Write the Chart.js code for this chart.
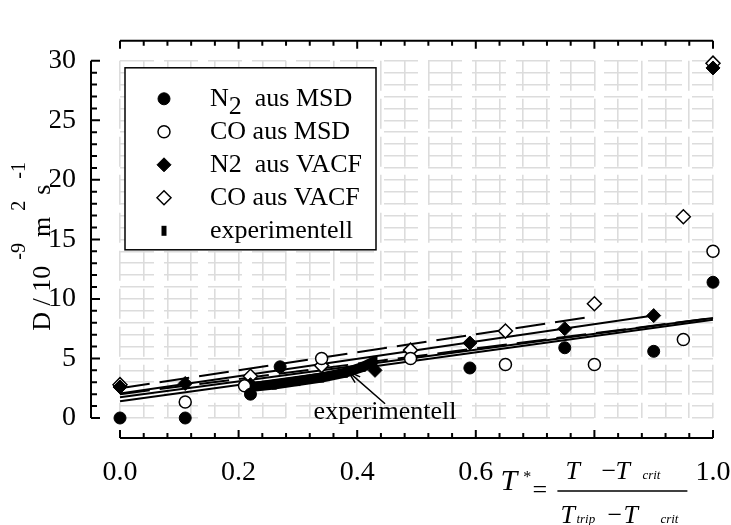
<!DOCTYPE html>
<html>
<head>
<meta charset="utf-8">
<script src="https://cdn.jsdelivr.net/npm/chart.js@4.4.1/dist/chart.umd.min.js"></script>
<style>
  html, body { margin: 0; padding: 0; background: #fff; }
  canvas { display: block; }
</style>
</head>
<body>
<canvas id="chart1" width="731" height="525"></canvas>
<script>
// reduced temperature T* and self diffusion coefficient D in 1e-9 m^2/s
const n2MsdT = [0.0, 0.11, 0.22, 0.27, 0.59, 0.75, 0.90, 1.0];
const n2MsdD = [0.0, 0.0, 2.0, 4.3, 4.2, 5.9, 5.6, 11.4];

const coMsdT = [0.11, 0.21, 0.34, 0.49, 0.65, 0.80, 0.95, 1.0];
const coMsdD = [1.35, 2.7, 5.0, 5.0, 4.5, 4.5, 6.6, 14.0];

const n2VacfT = [0.0, 0.11, 0.22, 0.43, 0.59, 0.75, 0.90, 1.0];
const n2VacfD = [2.6, 2.9, 2.8, 4.0, 6.3, 7.5, 8.6, 29.4];

const coVacfT = [0.0, 0.22, 0.34, 0.49, 0.65, 0.80, 0.95, 1.0];
const coVacfD = [2.8, 3.5, 4.4, 5.7, 7.3, 9.6, 16.9, 29.8];

const expT = [0.22, 0.26, 0.30, 0.34, 0.38, 0.41, 0.43];
const expD = [2.6, 2.8, 3.1, 3.4, 3.8, 4.3, 4.8];

// straight line fits, start and end point
const fitLongDashT = [0.0, 0.80];
const fitLongDashD = [2.5, 8.55];
const fitSolid1T = [0.0, 0.90];
const fitSolid1D = [2.05, 8.6];
const fitDashT = [0.0, 1.0];
const fitDashD = [2.0, 8.4];
const fitSolid2T = [0.0, 1.0];
const fitSolid2D = [1.75, 8.4];
const fitSolid3T = [0.0, 1.0];
const fitSolid3D = [1.4, 8.25];

const xTickLabels = ['0.0', '0.2', '0.4', '0.6', '', '1.0'];
const yTickLabels = ['0', '5', '10', '15', '20', '25', '30'];

function pts(xs, ys) {
  return xs.map((x, i) => ({ x: x, y: ys[i] }));
}

const serif = "'Liberation Serif', 'Times New Roman', serif";
Chart.defaults.font.family = serif;
Chart.defaults.color = '#000';

function fitLine(xs, ys, dash) {
  return {
    data: pts(xs, ys),
    showLine: true,
    borderColor: '#000',
    borderWidth: 2,
    borderDash: dash,
    pointRadius: 0,
    clip: false
  };
}

// axes sit a little away from the grid
const offsetAxes = {
  id: 'offsetAxes',
  afterDraw(chart) {
    const ctx = chart.ctx;
    const x = chart.scales.x, y = chart.scales.y;
    const a = chart.chartArea;
    const ax = a.left - 29, bottom = a.bottom + 20, top = a.top - 20;
    ctx.save();
    ctx.strokeStyle = '#000';
    ctx.lineWidth = 2;
    ctx.beginPath();
    ctx.moveTo(ax, y.getPixelForValue(0));
    ctx.lineTo(ax, y.getPixelForValue(30));
    for (let v = 0; v <= 30; v++) {
      const py = y.getPixelForValue(v);
      ctx.moveTo(ax, py);
      ctx.lineTo(ax + (v % 5 === 0 ? 9 : 6), py);
    }
    ctx.moveTo(x.getPixelForValue(0), bottom);
    ctx.lineTo(x.getPixelForValue(1), bottom);
    ctx.moveTo(x.getPixelForValue(0), top);
    ctx.lineTo(x.getPixelForValue(1), top);
    for (let i = 0; i <= 25; i++) {
      const px = x.getPixelForValue(i * 0.04);
      const len = i % 5 === 0 ? 8 : 5;
      ctx.moveTo(px, bottom);
      ctx.lineTo(px, bottom - len);
      ctx.moveTo(px, top);
      ctx.lineTo(px, top + len);
    }
    ctx.stroke();
    ctx.restore();
  }
};

// boxed legend in the upper left corner
const legendBox = {
  id: 'legendBox',
  afterDatasetsDraw(chart) {
    const ctx = chart.ctx;
    const a = chart.chartArea;
    const left = a.left + 5, top = a.top + 7;
    ctx.save();
    ctx.fillStyle = '#fff';
    ctx.fillRect(left, top, 251, 182);
    ctx.strokeStyle = '#000';
    ctx.lineWidth = 1.5;
    ctx.strokeRect(left, top, 251, 182);
    const rows = chart.data.datasets.filter(d => d.label);
    rows.forEach((ds, i) => {
      const ry = top + 31 + i * 33;
      ctx.fillStyle = ds.pointBackgroundColor;
      ctx.strokeStyle = ds.pointBorderColor;
      ctx.lineWidth = ds.pointBorderWidth;
      Chart.helpers.drawPoint(ctx, {
        pointStyle: ds.pointStyle,
        rotation: ds.pointRotation || 0,
        radius: ds.pointRadius,
        borderWidth: ds.pointBorderWidth
      }, left + 39, ry);
      ctx.fillStyle = '#000';
      ctx.font = '26px ' + serif;
      ctx.textBaseline = 'middle';
      let tx = left + 85;
      const parts = ds.label.split('\u2082');
      ctx.fillText(parts[0], tx, ry);
      if (parts.length > 1) {
        tx += ctx.measureText(parts[0]).width;
        ctx.fillText('2', tx, ry + 8);
        tx += ctx.measureText('2').width;
        ctx.fillText(parts[1], tx, ry);
      }
    });
    ctx.restore();
  }
};

// axis titles and the note on the measured values
const labels = {
  id: 'labels',
  afterDraw(chart) {
    const ctx = chart.ctx;
    const x = chart.scales.x, y = chart.scales.y;
    const a = chart.chartArea;
    ctx.save();
    ctx.fillStyle = '#000';
    ctx.strokeStyle = '#000';

    // arrow to the experimental curve
    const tipX = x.getPixelForValue(0.385), tipY = y.getPixelForValue(3.9);
    const tailX = x.getPixelForValue(0.447), tailY = y.getPixelForValue(1.2);
    const ang = Math.atan2(tailY - tipY, tailX - tipX);
    ctx.lineWidth = 1.5;
    ctx.beginPath();
    ctx.moveTo(tailX, tailY);
    ctx.lineTo(tipX, tipY);
    ctx.moveTo(tipX + 13 * Math.cos(ang + 0.3), tipY + 13 * Math.sin(ang + 0.3));
    ctx.lineTo(tipX, tipY);
    ctx.lineTo(tipX + 13 * Math.cos(ang - 0.3), tipY + 13 * Math.sin(ang - 0.3));
    ctx.stroke();
    ctx.font = '26px ' + serif;
    ctx.textAlign = 'center';
    ctx.textBaseline = 'alphabetic';
    ctx.fillText('experimentell', x.getPixelForValue(0.447), y.getPixelForValue(0) + 1);

    // y title: D / 10^-9 m^2 s^-1
    ctx.save();
    ctx.translate(a.left - 70, (a.top + a.bottom) / 2 + 4);
    ctx.rotate(-Math.PI / 2);
    ctx.textAlign = 'left';
    const pieces = [['D / 10', 0], ['-9', 1], ['m', 0], ['2', 1], ['s', 0], ['-1', 1]];
    const gap = 6;
    let total = 0;
    pieces.forEach(p => {
      ctx.font = (p[1] ? '20px ' : '26px ') + serif;
      p.push(ctx.measureText(p[0]).width);
      total += p[2] + gap;
    });
    let px = -total / 2;
    pieces.forEach(p => {
      ctx.font = (p[1] ? '20px ' : '26px ') + serif;
      ctx.fillText(p[0], px, p[1] ? -25 : 0);
      px += p[2] + gap;
    });
    ctx.restore();

    // x title: T* = (T - Tcrit) / (Ttrip - Tcrit)
    const cx = x.getPixelForValue(0.8), b = a.bottom;
    ctx.textAlign = 'left';
    const it = (s, size, dx, dy) => {
      ctx.font = 'italic ' + size + 'px ' + serif;
      ctx.fillText(s, cx + dx, b + dy);
    };
    it('T', 30, -94, 72);
    it('*', 16, -72, 64);
    ctx.font = '26px ' + serif;
    ctx.fillText('=', cx - 62, b + 80);
    ctx.fillText('\u2212', cx + 7, b + 61);
    ctx.fillText('\u2212', cx + 13, b + 105);
    it('T', 26, -29, 61);
    it('T', 26, 21, 61);
    it('crit', 13, 48, 61);
    it('T', 26, -34, 105);
    it('trip', 13, -18, 105);
    it('T', 26, 29, 105);
    it('crit', 13, 66, 105);
    ctx.lineWidth = 1.5;
    ctx.beginPath();
    ctx.moveTo(cx - 37, b + 73);
    ctx.lineTo(cx + 93, b + 73);
    ctx.stroke();
    ctx.restore();
  }
};

new Chart(document.getElementById('chart1'), {
  type: 'scatter',
  data: {
    datasets: [
      {
        label: 'N\u2082  aus MSD',
        data: pts(n2MsdT, n2MsdD),
        pointStyle: 'circle',
        pointRadius: 6,
        pointBackgroundColor: '#000',
        pointBorderColor: '#000',
        pointBorderWidth: 1,
        clip: false
      },
      {
        label: 'CO aus MSD',
        data: pts(coMsdT, coMsdD),
        pointStyle: 'circle',
        pointRadius: 6,
        pointBackgroundColor: '#fff',
        pointBorderColor: '#000',
        pointBorderWidth: 1.5,
        clip: false
      },
      {
        label: 'N2  aus VACF',
        data: pts(n2VacfT, n2VacfD),
        pointStyle: 'rectRot',
        pointRadius: 7,
        pointBackgroundColor: '#000',
        pointBorderColor: '#000',
        pointBorderWidth: 1,
        clip: false
      },
      {
        label: 'CO aus VACF',
        data: pts(coVacfT, coVacfD),
        pointStyle: 'rectRot',
        pointRadius: 7,
        pointBackgroundColor: '#fff',
        pointBorderColor: '#000',
        pointBorderWidth: 1.5,
        clip: false
      },
      {
        label: 'experimentell',
        data: pts(expT, expD),
        showLine: true,
        borderColor: '#000',
        borderWidth: 10,
        pointStyle: 'line',
        pointRotation: 90,
        pointRadius: 5,
        pointBackgroundColor: '#000',
        pointBorderColor: '#000',
        pointBorderWidth: 5,
        clip: false
      },
      fitLine(fitLongDashT, fitLongDashD, [30, 10]),
      fitLine(fitSolid1T, fitSolid1D, []),
      fitLine(fitDashT, fitDashD, [30, 10]),
      fitLine(fitSolid2T, fitSolid2D, []),
      fitLine(fitSolid3T, fitSolid3D, [])
    ]
  },
  options: {
    responsive: false,
    animation: false,
    layout: { padding: { left: 50, right: 18, top: 33, bottom: 0 } },
    plugins: {
      legend: { display: false },
      tooltip: { enabled: false }
    },
    scales: {
      x: {
        type: 'linear',
        min: 0,
        max: 1,
        afterFit(s) { s.height = 107; s.paddingLeft = 0; s.paddingRight = 0; },
        border: { display: false, dash: [30, 8] },
        grid: { color: '#dcdcdc', lineWidth: 1.6, drawTicks: false },
        ticks: {
          stepSize: 0.04,
          autoSkip: false,
          maxRotation: 0,
          padding: 38,
          font: { size: 28 },
          callback(value) {
            const k = Math.round(value / 0.2);
            return Math.abs(value - k * 0.2) < 1e-6 ? xTickLabels[k] : '';
          }
        }
      },
      y: {
        type: 'linear',
        min: 0,
        max: 30,
        afterFit(s) { s.width = 70; },
        border: { display: false, dash: [34, 10] },
        grid: { color: '#dcdcdc', lineWidth: 1.6, drawTicks: false },
        ticks: {
          stepSize: 1,
          autoSkip: false,
          padding: 44,
          font: { size: 28 },
          callback(value) {
            return value % 5 === 0 ? yTickLabels[value / 5] : '';
          }
        }
      }
    }
  },
  plugins: [offsetAxes, legendBox, labels]
});
</script>
</body>
</html>
